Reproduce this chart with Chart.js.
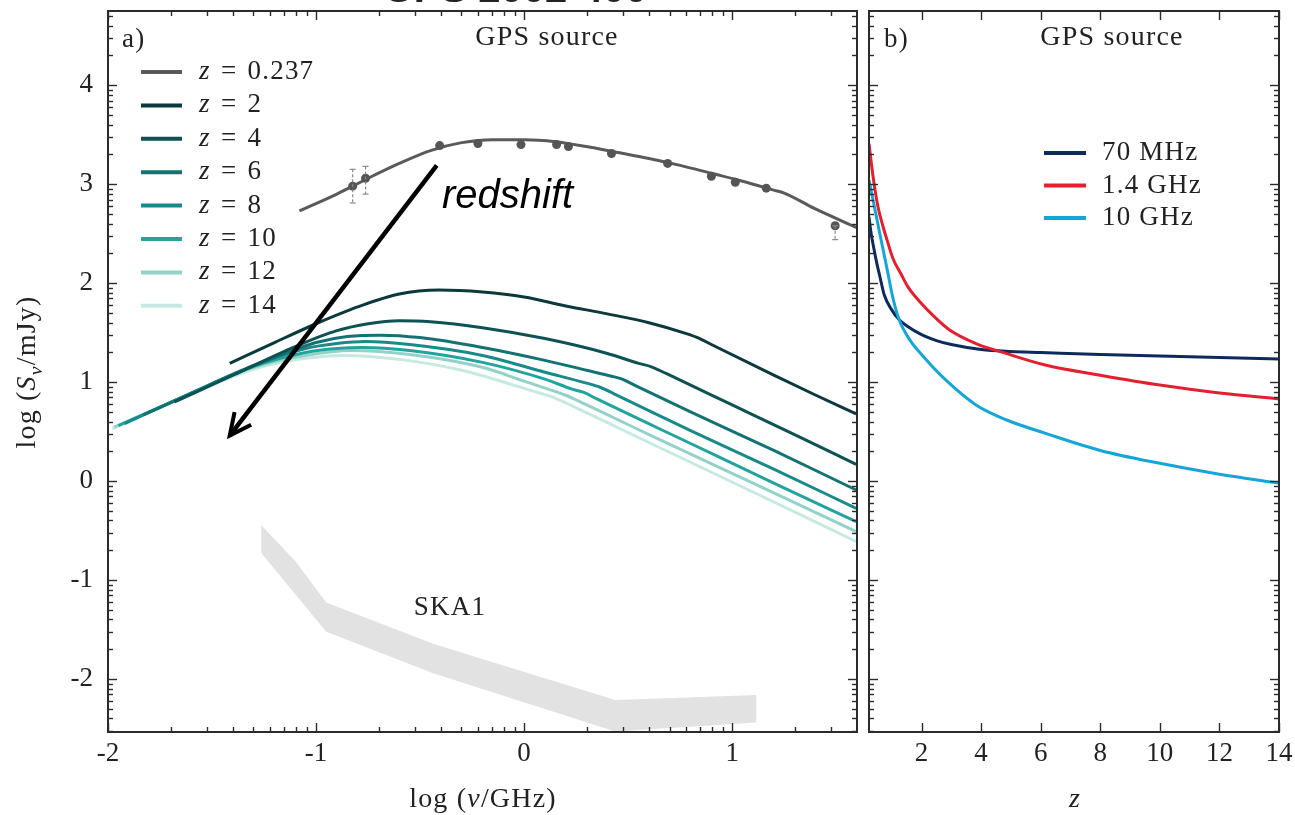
<!DOCTYPE html>
<html>
<head>
<meta charset="utf-8">
<script src="https://cdn.jsdelivr.net/npm/chart.js@4.4.1/dist/chart.umd.min.js"></script>
<style>
  html, body { margin: 0; padding: 0; background: #fff; overflow: hidden; }
  #wrap { position: relative; width: 1295px; height: 815px; }
  #left { position: absolute; left: 0; top: 0; }
  #right { position: absolute; left: 862px; top: 0; }
</style>
</head>
<body>
<div id="wrap">
  <canvas id="left" width="862" height="815"></canvas>
  <canvas id="right" width="433" height="815"></canvas>
</div>
<script>
// ---------- panel a) : spectra, log(S/mJy) vs log(nu/GHz) ----------
const xTicksA = [-2, -1, 0, 1];
const xTickLabelsA = ['-2', '-1', '0', '1'];
const yTicks = [-2, -1, 0, 1, 2, 3, 4];
const yTickLabels = ['-2', '-1', '0', '1', '2', '3', '4'];

// observed source (z = 0.237): model curve
const gpsX = [-1.08, -0.9, -0.75, -0.6, -0.45, -0.3, -0.15, 0, 0.15, 0.3, 0.45, 0.6, 0.75, 0.9, 1.05, 1.2, 1.25, 1.4, 1.6];
const gpsY = [2.73, 2.90, 3.06, 3.21, 3.34, 3.42, 3.45, 3.45, 3.43, 3.38, 3.32, 3.26, 3.19, 3.11, 3.03, 2.94, 2.91, 2.75, 2.56];

// observed flux densities with errors
const obsX = [-0.824, -0.762, -0.406, -0.222, -0.015, 0.156, 0.213, 0.42, 0.69, 0.90, 1.015, 1.164, 1.495];
const obsY = [2.98, 3.06, 3.39, 3.41, 3.40, 3.40, 3.38, 3.31, 3.21, 3.08, 3.02, 2.96, 2.58];
const obsErrLo = [0.17, 0.16, 0, 0, 0, 0, 0, 0, 0, 0, 0, 0, 0.14];
const obsErrHi = [0.17, 0.12, 0, 0, 0, 0, 0, 0, 0, 0, 0, 0, 0];

// the same source moved to higher redshift
const z2X = [-1.415, -1.2, -1.0, -0.8, -0.6, -0.41, -0.2, 0.0, 0.2, 0.4, 0.6, 0.78, 0.844, 0.9, 1.2, 1.4, 1.596];
const z2Y = [1.19, 1.40, 1.59, 1.76, 1.89, 1.93, 1.91, 1.86, 1.77, 1.69, 1.60, 1.49, 1.44, 1.38, 1.07, 0.87, 0.68];
const z4X = [-1.68, -1.4, -1.1, -0.9, -0.75, -0.6, -0.45, -0.2, 0.1, 0.4, 0.55, 0.612, 0.68, 1.0, 1.3, 1.596];
const z4Y = [0.80, 1.07, 1.36, 1.52, 1.59, 1.62, 1.61, 1.55, 1.44, 1.29, 1.19, 1.155, 1.09, 0.77, 0.47, 0.17];
const z6X = [-1.83, -1.5, -1.2, -1.0, -0.85, -0.69, -0.5, -0.2, 0.1, 0.3, 0.42, 0.472, 0.53, 0.8, 1.2, 1.596];
const z6Y = [0.67, 0.98, 1.25, 1.40, 1.46, 1.475, 1.45, 1.35, 1.22, 1.12, 1.06, 1.03, 0.97, 0.70, 0.31, -0.09];
const z8X = [-1.92, -1.6, -1.3, -1.05, -0.9, -0.76, -0.55, -0.2, 0.1, 0.3, 0.368, 0.43, 0.8, 1.2, 1.596];
const z8Y = [0.58, 0.89, 1.17, 1.34, 1.39, 1.41, 1.38, 1.27, 1.10, 0.99, 0.946, 0.885, 0.51, 0.12, -0.275];
const z10X = [-1.95, -1.6, -1.3, -1.05, -0.9, -0.78, -0.55, -0.2, 0.1, 0.23, 0.287, 0.35, 0.8, 1.2, 1.596];
const z10Y = [0.56, 0.89, 1.16, 1.30, 1.34, 1.35, 1.32, 1.20, 1.03, 0.93, 0.896, 0.83, 0.38, -0.02, -0.41];
const z12X = [-1.97, -1.6, -1.3, -1.05, -0.83, -0.55, -0.2, 0.0, 0.15, 0.197, 0.26, 0.6, 1.1, 1.596];
const z12Y = [0.545, 0.885, 1.15, 1.27, 1.32, 1.28, 1.15, 1.01, 0.905, 0.87, 0.81, 0.47, -0.02, -0.51];
const z14X = [-1.98, -1.6, -1.3, -1.05, -0.877, -0.6, -0.3, -0.05, 0.09, 0.135, 0.2, 0.6, 1.1, 1.596];
const z14Y = [0.53, 0.88, 1.13, 1.24, 1.27, 1.23, 1.12, 0.97, 0.88, 0.852, 0.79, 0.39, -0.11, -0.61];

// SKA1 sensitivity band
const skaX = [-1.264, -1.097, -0.951, -0.434, 0.438, 1.117];
const skaHi = [-0.444, -0.815, -1.226, -1.646, -2.212, -2.162];
const skaLo = [-0.724, -1.15, -1.522, -1.943, -2.53, -2.44];

// "redshift" arrow (data coordinates: tail, head)
const arrowTail = [-0.42, 3.19];
const arrowHead = [-1.415, 0.46];

// ---------- panel b) : flux density vs redshift ----------
const xTicksB = [2, 4, 6, 8, 10, 12, 14];
const zNavy = [0.237, 0.3, 0.4, 0.5, 0.6, 0.75, 1.0, 1.25, 1.5, 2, 2.5, 3, 4, 5, 6, 8, 10, 12, 14];
const mhz70Y = [2.67, 2.52, 2.35, 2.20, 2.07, 1.88, 1.73, 1.63, 1.57, 1.48, 1.42, 1.38, 1.33, 1.31, 1.30, 1.28, 1.265, 1.25, 1.235];
const zRed = [0.237, 0.3, 0.4, 0.54, 0.7, 0.85, 1.04, 1.3, 1.55, 1.89, 2.4, 2.93, 3.83, 4.84, 6.19, 8, 10, 12, 14];
const ghz14Y = [3.41, 3.25, 3.02, 2.77, 2.58, 2.43, 2.25, 2.10, 1.96, 1.83, 1.67, 1.53, 1.39, 1.29, 1.17, 1.07, 0.97, 0.89, 0.83];
const zCyan = [0.237, 0.4, 0.6, 0.82, 1.04, 1.25, 1.6, 2.03, 2.82, 3.83, 4.84, 6.19, 8, 10, 12, 14];
const ghz10Y = [3.04, 2.80, 2.50, 2.18, 1.85, 1.63, 1.43, 1.27, 1.02, 0.77, 0.62, 0.48, 0.31, 0.18, 0.07, -0.02];

// ---------- styling ----------
const SERIF = '"Liberation Serif", "DejaVu Serif", serif';
const INK = '#222';
const teal = {
  2: '#0b393c', 4: '#0e5254', 6: '#137373', 8: '#178a89',
  10: '#22a39d', 12: '#93d2c8', 14: '#c6e9e1'
};
const greyLine = '#5a5a5a';

const pts = (xs, ys) => xs.map((x, i) => ({ x, y: ys[i] }));
const curve = (label, xs, ys, color, order) => ({
  label, data: pts(xs, ys), borderColor: color, backgroundColor: color,
  borderWidth: 3, pointRadius: 0, fill: false,
  cubicInterpolationMode: 'monotone', order
});

// minor tick positions inside each integer decade (log-spaced)
const logSub = [2, 3, 4, 5, 6, 7, 8, 9].map(k => Math.log10(k));
function minorTicks(lo, hi) {
  const out = [];
  for (let n = Math.floor(lo) - 1; n <= Math.ceil(hi); n++) {
    for (const f of logSub) { const v = n + f; if (v > lo && v < hi) out.push(v); }
  }
  return out;
}

// keep the plot area exactly where the layout puts it
function noScalePadding(s) { s.paddingTop = 0; s.paddingBottom = 0; s.paddingLeft = 0; s.paddingRight = 0; }

function frameAndTicks(chart, xMaj, xMin, yMaj, yMin) {
  const { ctx, chartArea: a, scales } = chart;
  const sx = scales.x, sy = scales.y;
  ctx.save();
  ctx.strokeStyle = '#2b2b2b';
  ctx.lineWidth = 1.4;
  const seg = (x1, y1, x2, y2) => { ctx.beginPath(); ctx.moveTo(x1, y1); ctx.lineTo(x2, y2); ctx.stroke(); };
  for (const v of xMaj) { const p = Math.round(sx.getPixelForValue(v)) + 0.5; seg(p, a.bottom, p, a.bottom - 9); seg(p, a.top, p, a.top + 9); }
  for (const v of xMin) { const p = Math.round(sx.getPixelForValue(v)) + 0.5; seg(p, a.bottom, p, a.bottom - 5); seg(p, a.top, p, a.top + 5); }
  for (const v of yMaj) { const p = Math.round(sy.getPixelForValue(v)) + 0.5; seg(a.left, p, a.left + 9, p); seg(a.right, p, a.right - 9, p); }
  for (const v of yMin) { const p = Math.round(sy.getPixelForValue(v)) + 0.5; seg(a.left, p, a.left + 5, p); seg(a.right, p, a.right - 5, p); }
  ctx.lineWidth = 2;
  ctx.strokeRect(a.left, a.top, a.right - a.left, a.bottom - a.top);
  ctx.restore();
}

// text made of roman / italic / subscript pieces
const TRACK = 1.2;   // extra letter spacing for the annotation text
function richWidth(ctx, parts, size) {
  let w = 0;
  for (const p of parts) { ctx.font = (p.it ? 'italic ' : '') + (p.sub ? size * 0.7 : size) + 'px ' + SERIF; w += ctx.measureText(p.t).width; }
  return w;
}
function richText(ctx, parts, x, y, size, align) {
  ctx.letterSpacing = TRACK + 'px';
  const w = richWidth(ctx, parts, size);
  let cx = align === 'center' ? x - w / 2 : x;
  ctx.textBaseline = 'middle';
  ctx.textAlign = 'left';
  for (const p of parts) {
    ctx.font = (p.it ? 'italic ' : '') + (p.sub ? size * 0.7 : size) + 'px ' + SERIF;
    ctx.fillText(p.t, cx, y + (p.sub ? size * 0.3 : 0));
    cx += ctx.measureText(p.t).width;
  }
  ctx.letterSpacing = '0px';
}
function plainText(ctx, t, x, y, size, align) {
  ctx.letterSpacing = TRACK + 'px';
  ctx.font = size + 'px ' + SERIF;
  ctx.textAlign = align; ctx.textBaseline = 'middle';
  ctx.fillText(t, x, y);
  ctx.letterSpacing = '0px';
}

function legend(ctx, items, x0, y0, dy, lineLen, textX, size) {
  items.forEach((it, i) => {
    const y = y0 + i * dy;
    ctx.strokeStyle = it.color; ctx.lineWidth = 4;
    ctx.beginPath(); ctx.moveTo(x0, y); ctx.lineTo(x0 + lineLen, y); ctx.stroke();
    ctx.fillStyle = INK;
    richText(ctx, it.parts, textX, y, size, 'left');
  });
}

const decorA = {
  id: 'decorA',
  afterDatasetsDraw(chart) {
    const { ctx, scales } = chart;
    const sx = scales.x, sy = scales.y;
    ctx.save();
    // error bars (dashed brackets)
    ctx.strokeStyle = '#8a8a8a'; ctx.lineWidth = 1.2; ctx.setLineDash([3, 2]);
    obsX.forEach((x, i) => {
      if (!obsErrLo[i] && !obsErrHi[i]) return;
      const px = sx.getPixelForValue(x);
      const top = sy.getPixelForValue(obsY[i] + obsErrHi[i]);
      const bot = sy.getPixelForValue(obsY[i] - obsErrLo[i]);
      ctx.beginPath(); ctx.moveTo(px, top); ctx.lineTo(px, bot); ctx.stroke();
      ctx.setLineDash([]);
      ctx.beginPath(); ctx.moveTo(px - 3, top); ctx.lineTo(px + 3, top); ctx.stroke();
      ctx.beginPath(); ctx.moveTo(px - 3, bot); ctx.lineTo(px + 3, bot); ctx.stroke();
      ctx.setLineDash([3, 2]);
    });
    ctx.setLineDash([]);
    // redshift arrow
    const tx = sx.getPixelForValue(arrowTail[0]), ty = sy.getPixelForValue(arrowTail[1]);
    const hx = sx.getPixelForValue(arrowHead[0]), hy = sy.getPixelForValue(arrowHead[1]);
    const ang = Math.atan2(ty - hy, tx - hx);
    ctx.strokeStyle = '#000'; ctx.lineWidth = 4.5; ctx.lineCap = 'butt';
    ctx.beginPath(); ctx.moveTo(tx, ty); ctx.lineTo(hx, hy); ctx.stroke();
    ctx.lineWidth = 4;
    ctx.beginPath();
    ctx.moveTo(hx + 24 * Math.cos(ang + 0.45), hy + 24 * Math.sin(ang + 0.45));
    ctx.lineTo(hx, hy);
    ctx.lineTo(hx + 24 * Math.cos(ang - 0.45), hy + 24 * Math.sin(ang - 0.45));
    ctx.stroke();
    ctx.restore();
    frameAndTicks(chart, xTicksA, minorTicks(-2, 1.6), yTicks, minorTicks(-2.535, 4.75));
  },
  afterDraw(chart) {
    const { ctx } = chart;
    ctx.save();
    ctx.fillStyle = INK;
    // clipped heading at the very top
    ctx.font = 'bold 40px "Liberation Sans", Arial, sans-serif';
    ctx.textAlign = 'center'; ctx.textBaseline = 'alphabetic';
    ctx.fillText('GPS 2002-400', 515, 2);
    plainText(ctx, 'a)', 122, 40, 27, 'left');
    plainText(ctx, 'GPS source', 547, 38, 28, 'center');
    plainText(ctx, 'SKA1', 450, 608, 27, 'center');
    ctx.font = 'italic 40px "Liberation Sans", Arial, sans-serif';
    ctx.textAlign = 'left'; ctx.textBaseline = 'alphabetic';
    ctx.fillStyle = '#000';
    ctx.fillText('redshift', 442, 208);
    ctx.fillStyle = INK;
    // legend
    const zs = ['0.237', '2', '4', '6', '8', '10', '12', '14'];
    const cols = [greyLine, teal[2], teal[4], teal[6], teal[8], teal[10], teal[12], teal[14]];
    legend(ctx, zs.map((z, i) => ({ color: cols[i], parts: [{ t: 'z', it: true }, { t: '\u2004=\u2004' + z }] })),
      141, 72, 33.4, 41, 199, 27);
    // axis titles
    richText(ctx, [{ t: 'log (' }, { t: 'ν', it: true }, { t: '/GHz)' }], 483, 800, 28, 'center');
    ctx.translate(28, 372); ctx.rotate(-Math.PI / 2);
    richText(ctx, [{ t: 'log (' }, { t: 'S', it: true }, { t: 'ν', it: true, sub: true }, { t: '/mJy)' }], 0, 0, 28, 'center');
    ctx.restore();
  }
};

const tickFont = { family: SERIF, size: 27 };

new Chart(document.getElementById('left'), {
  type: 'line',
  data: {
    datasets: [
      { label: 'SKA1 upper', data: pts(skaX, skaHi), borderWidth: 0, pointRadius: 0, backgroundColor: '#e2e2e2', fill: '+1', tension: 0, order: 100 },
      { label: 'SKA1 lower', data: pts(skaX, skaLo), borderWidth: 0, pointRadius: 0, backgroundColor: '#e2e2e2', fill: false, tension: 0, order: 101 },
      curve('z = 14', z14X, z14Y, teal[14], 30),
      curve('z = 12', z12X, z12Y, teal[12], 29),
      curve('z = 10', z10X, z10Y, teal[10], 28),
      curve('z = 8', z8X, z8Y, teal[8], 27),
      curve('z = 6', z6X, z6Y, teal[6], 26),
      curve('z = 4', z4X, z4Y, teal[4], 25),
      curve('z = 2', z2X, z2Y, teal[2], 24),
      curve('z = 0.237', gpsX, gpsY, greyLine, 10),
      { label: 'data', data: pts(obsX, obsY), showLine: false, pointRadius: 4.5, pointBorderWidth: 0,
        pointBackgroundColor: '#555', borderColor: '#555', order: 1 }
    ]
  },
  options: {
    responsive: false, animation: false, devicePixelRatio: 1,
    layout: { padding: { top: 11, right: 5, left: 0, bottom: 0 } },
    plugins: { legend: { display: false }, tooltip: { enabled: false } },
    scales: {
      x: {
        type: 'linear', min: -2, max: 1.6,
        grid: { display: false, drawTicks: false }, border: { display: false },
        afterBuildTicks: s => { s.ticks = xTicksA.map(v => ({ value: v })); },
        afterFit: s => { s.height = 83; noScalePadding(s); },
        ticks: { autoSkip: false, maxRotation: 0, padding: 6, color: INK, font: tickFont,
          callback: v => xTickLabelsA[xTicksA.indexOf(v)] }
      },
      y: {
        type: 'linear', min: -2.535, max: 4.75,
        grid: { display: false, drawTicks: false }, border: { display: false },
        afterBuildTicks: s => { s.ticks = yTicks.map(v => ({ value: v })); },
        afterFit: s => { s.width = 108; noScalePadding(s); },
        ticks: { autoSkip: false, padding: 15, color: INK, font: tickFont,
          callback: v => yTickLabels[yTicks.indexOf(v)] }
      }
    }
  },
  plugins: [decorA]
});

const decorB = {
  id: 'decorB',
  afterDatasetsDraw(chart) {
    frameAndTicks(chart, xTicksB, [], yTicks, minorTicks(-2.535, 4.75));
  },
  afterDraw(chart) {
    const { ctx } = chart;
    ctx.save();
    ctx.fillStyle = INK;
    plainText(ctx, 'b)', 22, 40, 27, 'left');
    plainText(ctx, 'GPS source', 250, 38, 28, 'center');
    legend(ctx, [
      { color: '#0d2a5c', parts: [{ t: '70 MHz' }] },
      { color: '#e3202f', parts: [{ t: '1.4 GHz' }] },
      { color: '#14a6d6', parts: [{ t: '10 GHz' }] }
    ], 182, 153, 32.5, 42, 240, 27);
    richText(ctx, [{ t: 'z', it: true }], 213, 800, 28, 'center');
    ctx.restore();
  }
};

new Chart(document.getElementById('right'), {
  type: 'line',
  data: {
    datasets: [
      curve('70 MHz', zNavy, mhz70Y, '#0d2a5c', 3),
      curve('1.4 GHz', zRed, ghz14Y, '#e3202f', 2),
      curve('10 GHz', zCyan, ghz10Y, '#14a6d6', 1)
    ]
  },
  options: {
    responsive: false, animation: false, devicePixelRatio: 1,
    layout: { padding: { top: 11, right: 16, left: 7, bottom: 0 } },
    plugins: { legend: { display: false }, tooltip: { enabled: false } },
    scales: {
      x: {
        type: 'linear', min: 0.237, max: 14,
        grid: { display: false, drawTicks: false }, border: { display: false },
        afterBuildTicks: s => { s.ticks = xTicksB.map(v => ({ value: v })); },
        afterFit: s => { s.height = 83; noScalePadding(s); },
        ticks: { autoSkip: false, maxRotation: 0, padding: 6, color: INK, font: tickFont,
          callback: v => String(v) }
      },
      y: { type: 'linear', min: -2.535, max: 4.75, display: false }
    }
  },
  plugins: [decorB]
});
</script>
</body>
</html>
